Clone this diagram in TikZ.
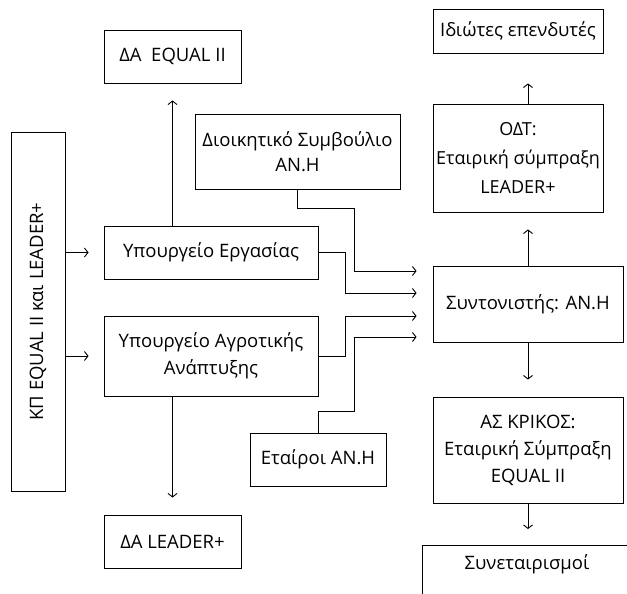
\documentclass[tikz,border=0pt]{standalone}
\usepackage{fontspec}
\setmainfont{Open Sans}
\usetikzlibrary{arrows.meta}
\tikzset{
  box/.style={draw, line width=0.9pt, inner sep=0pt, align=center,
    font=\fontsize{18.5}{27}\selectfont},
  arr/.style={line width=0.9pt, -{Straight Barb[length=3.5pt,width=9pt,line width=0.9pt]}},
  conn/.style={line width=0.9pt}
}
\begin{document}
\begin{tikzpicture}[x=1pt,y=-1pt]
\clip (0,0) rectangle (627,594);
\useasboundingbox (0,0) rectangle (627,594);
% nodes
\node[box, rotate=90, minimum width=359pt, minimum height=54pt] (kp) at (38,311.5) {ΚΠ EQUAL II και LEADER+};
\node[box, minimum width=137pt, minimum height=53pt] (daeq) at (172.5,56.5) {ΔΑ\ \ EQUAL II};
\node[box, minimum width=205pt, minimum height=75pt, font=\fontsize{18.5}{25}\selectfont] (diok) at (297.5,151.5) {Διοικητικό Συμβούλιο\\ΑΝ.Η};
\node[box, minimum width=214pt, minimum height=53pt] (erg) at (211,252.5) {Υπουργείο Εργασίας};
\node[box, minimum width=214pt, minimum height=80pt] (agr) at (211,356) {Υπουργείο Αγροτικής\\Ανάπτυξης};
\node[box, minimum width=136pt, minimum height=53pt] (etair) at (318,459.5) {Εταίροι ΑΝ.Η};
\node[box, minimum width=137pt, minimum height=53pt] (dale) at (172.5,541.5) {ΔΑ LEADER+};
\node[box, minimum width=170pt, minimum height=44pt] (idio) at (518,31) {Ιδιώτες επενδυτές};
\node[box, minimum width=170pt, minimum height=108pt, font=\fontsize{18}{29}\selectfont] (odt) at (518,158) {ΟΔΤ:\\Εταιρική σύμπραξη\\LEADER+};
\node[box, minimum width=190pt, minimum height=76pt] (synt) at (528,304) {Συντονιστής: ΑΝ.Η};
\node[box, minimum width=190pt, minimum height=106pt] (ask) at (528,450) {ΑΣ ΚΡΙΚΟΣ:\\Εταιρική Σύμπραξη\\EQUAL II};
\node[box, minimum width=210pt, anchor=north, text height=18pt, text depth=40pt, inner ysep=6pt] (syne) at (527,545) {Συνεταιρισμοί};
% connectors
\draw[arr, shorten >=15pt] (kp.south |- erg.west) -- (erg.west);
\draw[arr, shorten >=15pt] (kp.south |- agr.west) -- (agr.west);
\draw[arr, shorten >=17pt] (erg.north -| daeq.south) -- (daeq.south);
\draw[arr, shorten >=17pt] (agr.south -| dale.north) -- (dale.north);
\draw[arr, shorten >=16pt] (diok.south) |- (354,208) |- (synt.west |- 0,271);
\draw[arr, shorten >=16pt] (erg.east) -| (345,293) -- (synt.west |- 0,293);
\draw[arr, shorten >=16pt] (agr.east) -| (345,316) -- (synt.west |- 0,316);
\draw[arr, shorten >=16pt] (etair.north) |- (354,411) |- (synt.west |- 0,337);
\draw[arr, shorten >=17pt] (synt.north) -- (synt.north |- odt.south);
\draw[arr, shorten >=30pt] (synt.north |- odt.north) -- (synt.north |- idio.south);
\draw[arr, shorten >=17pt] (synt.south) -- (synt.south |- ask.north);
\draw[arr, shorten >=16pt] (ask.south) -- (ask.south |- syne.north);
\end{tikzpicture}
\end{document}
